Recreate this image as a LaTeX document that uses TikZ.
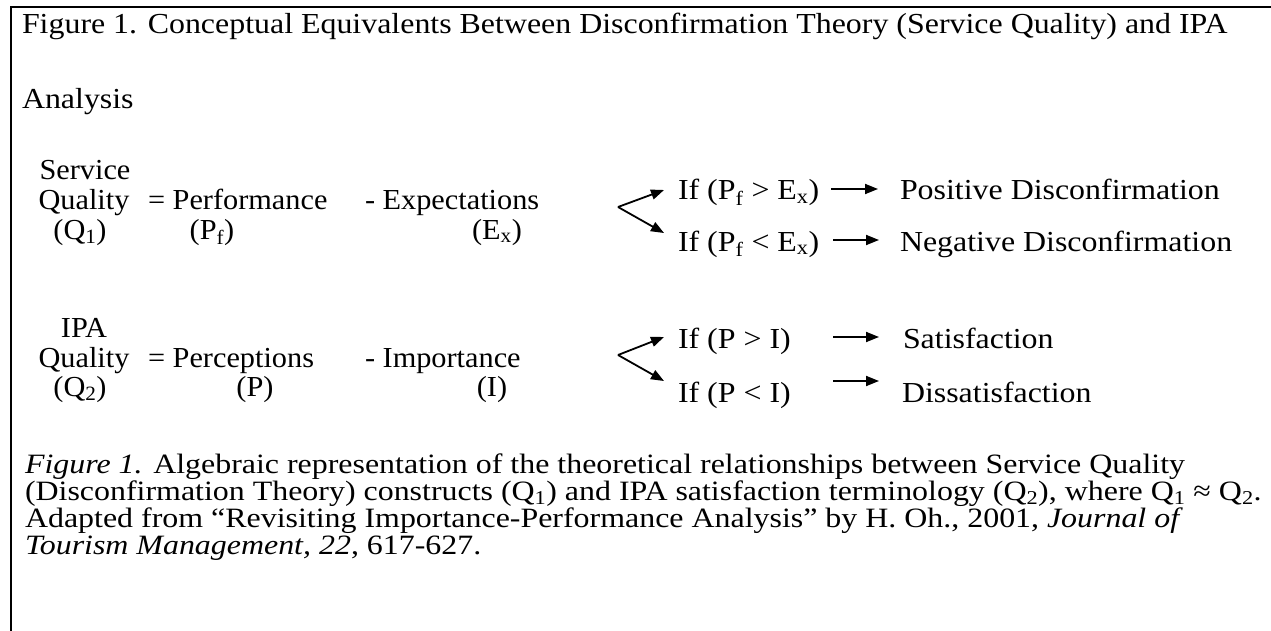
\documentclass[tikz,border=0pt]{standalone}
\usepackage{fontspec}
\setmainfont[FakeStretch=1.1]{Liberation Serif}
\newfontfamily\leftfont[FakeStretch=1.045]{Liberation Serif}
\newfontfamily\capfont[FakeStretch=1.14]{Liberation Serif}
\usetikzlibrary{arrows.meta}
\tikzset{
  txt/.style={inner sep=0pt, outer sep=0pt, anchor=base west, font=\fontsize{29}{34}\selectfont},
  ltxt/.style={txt, font=\leftfont\fontsize{29}{34}\selectfont},
  ctxt/.style={ltxt, anchor=base},
  captxt/.style={txt, font=\capfont\fontsize{28}{33}\selectfont},
  frameline/.style={line width=2.2pt, line cap=rect},
  arr/.style={line width=1.8pt, -{Triangle[length=13pt,width=10pt]}},
}
\begin{document}
\begin{tikzpicture}[x=1pt,y=-1pt]
\useasboundingbox (0,0) rectangle (1271,631);
% frame
\coordinate (ftl) at (11,7);
\coordinate (ftr) at (1271,7);
\coordinate (fbl) at (11,631);
\draw[frameline] (ftr) -- (ftl) -- (fbl);
% title
\node[txt] (title1) at (22,34) {Figure 1. Conceptual Equivalents Between Disconfirmation Theory (Service Quality) and IPA};
\node[txt] (title2) at (22,109) {Analysis};
% row 1
\node[ctxt] (sq1) at (85,180) {Service};
\node[ctxt] (sq2) at (84,210) {Quality};
\node[ctxt] (sq3) at (80,239) {(Q\textsubscript{1})};
\node[ltxt] (perf) at (148,210) {= Performance};
\node[ctxt] (pf) at (212,239) {(P\textsubscript{f})};
\node[ltxt] (expe) at (365,210) {- Expectations};
\node[ctxt] (ex) at (497,239) {(E\textsubscript{x})};
\coordinate (v1) at (618,207);
\coordinate (t1a) at (664,190);
\coordinate (t1b) at (664,233);
\draw[arr] (v1) -- (t1a);
\draw[arr] (v1) -- (t1b);
\node[txt] (if1a) at (678,200) {If (P\textsubscript{f} > E\textsubscript{x})};
\node[txt] (if1b) at (678,251) {If (P\textsubscript{f} < E\textsubscript{x})};
\coordinate (a1s) at (831,189);
\coordinate (a1e) at (878,189);
\coordinate (b1s) at (833,240);
\coordinate (b1e) at (879,240);
\draw[arr] (a1s) -- (a1e);
\draw[arr] (b1s) -- (b1e);
\node[txt] (posd) at (900,200) {Positive Disconfirmation};
\node[txt] (negd) at (900,251) {Negative Disconfirmation};
% row 2
\node[ctxt] (iq1) at (84,337) {IPA};
\node[ctxt] (iq2) at (84,367) {Quality};
\node[ctxt] (iq3) at (80,396) {(Q\textsubscript{2})};
\node[ltxt] (perc) at (148,367) {= Perceptions};
\node[ctxt] (pp) at (255,396) {(P)};
\node[ltxt] (impo) at (365,367) {- Importance};
\node[ctxt] (ii) at (492,396) {(I)};
\coordinate (v2) at (618,355);
\coordinate (t2a) at (664,337);
\coordinate (t2b) at (664,381);
\draw[arr] (v2) -- (t2a);
\draw[arr] (v2) -- (t2b);
\node[txt] (if2a) at (678,348) {If (P > I)};
\node[txt] (if2b) at (678,402) {If (P < I)};
\coordinate (a2s) at (833,337);
\coordinate (a2e) at (879,337);
\coordinate (b2s) at (833,381);
\coordinate (b2e) at (879,381);
\draw[arr] (a2s) -- (a2e);
\draw[arr] (b2s) -- (b2e);
\node[txt] (sat) at (903,348) {Satisfaction};
\node[txt] (dis) at (902,402) {Dissatisfaction};
% caption
\node[captxt] (c1) at (25,473) {\textit{Figure 1.} Algebraic representation of the theoretical relationships between Service Quality};
\node[captxt] (c2) at (25,500) {(Disconfirmation Theory) constructs (Q\textsubscript{1}) and IPA satisfaction terminology (Q\textsubscript{2}), where Q\textsubscript{1} ≈ Q\textsubscript{2}.};
\node[captxt] (c3) at (25,527) {Adapted from “Revisiting Importance-Performance Analysis” by H. Oh., 2001, \textit{Journal of}};
\node[captxt] (c4) at (25,554) {\textit{Tourism Management, 22}, 617-627.};
\end{tikzpicture}
\end{document}
